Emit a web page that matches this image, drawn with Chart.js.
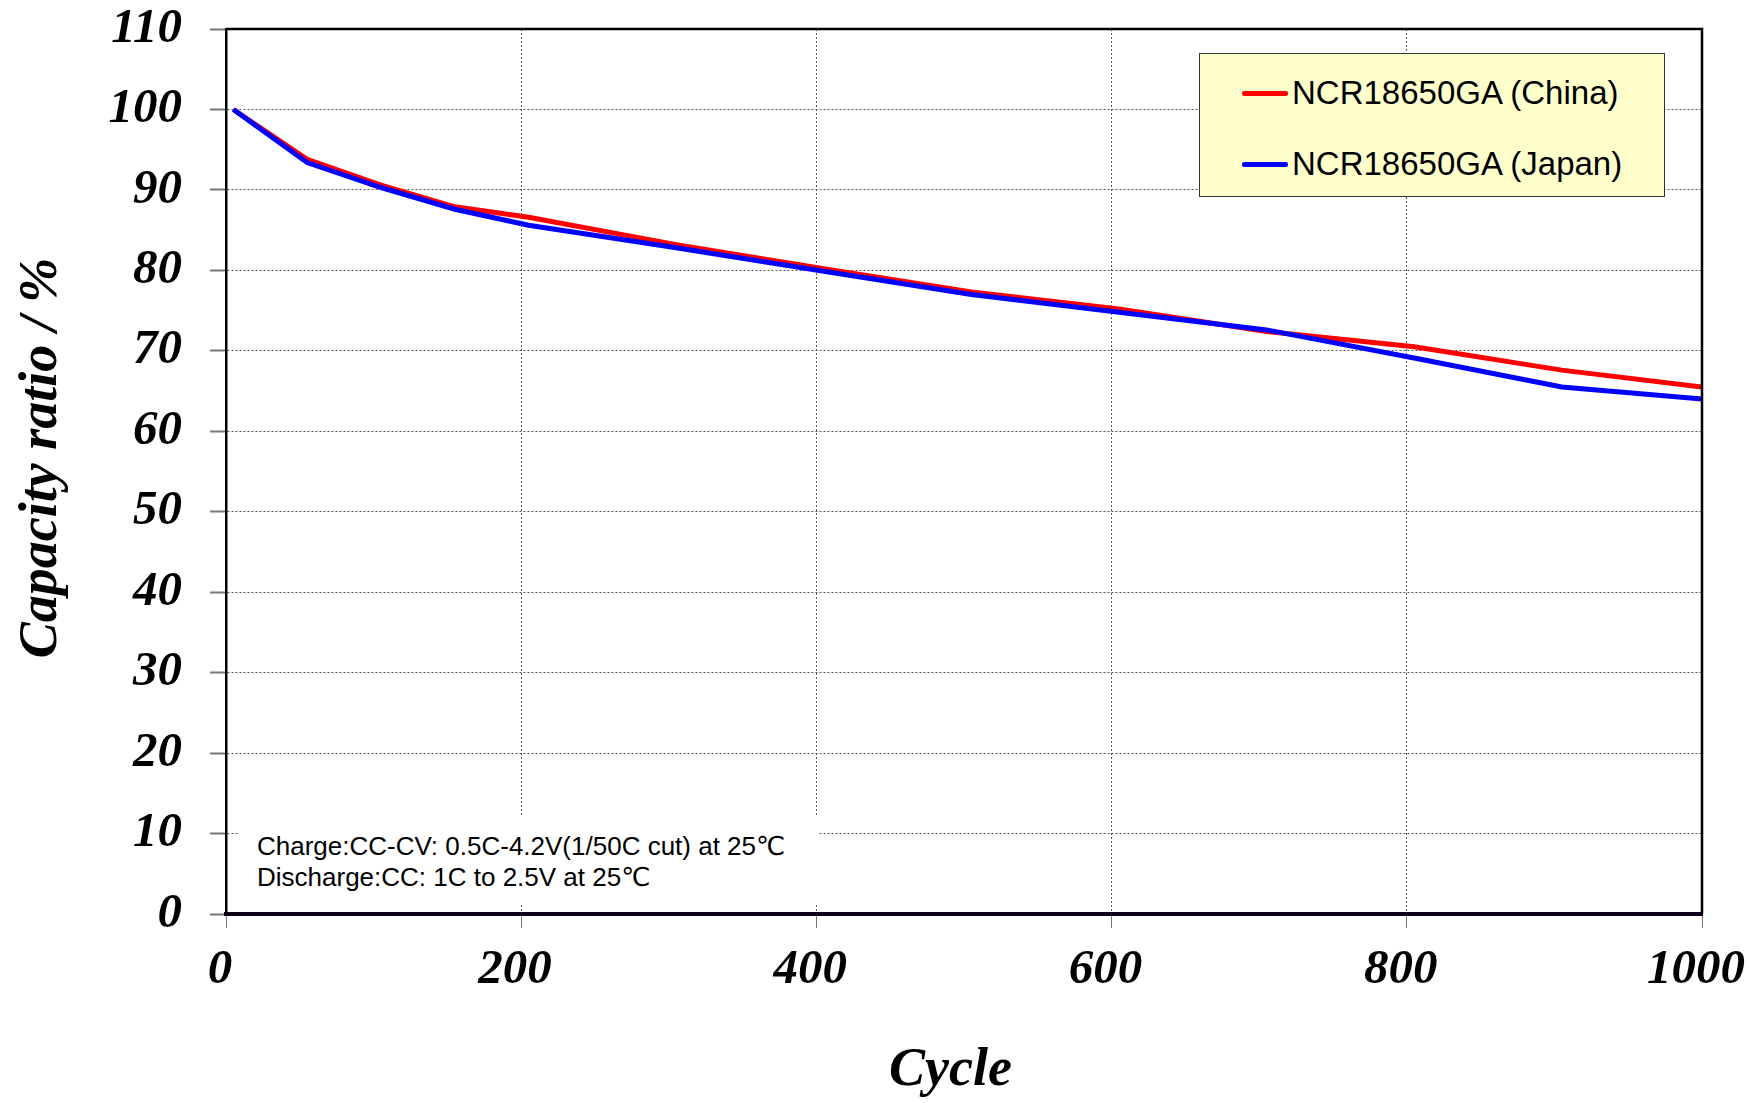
<!DOCTYPE html>
<html>
<head>
<meta charset="utf-8">
<script src="https://cdn.jsdelivr.net/npm/chart.js@4.4.1/dist/chart.umd.min.js"></script>
<style>
  body { margin: 0; background: #fff; }
  #wrap { position: relative; width: 1749px; height: 1103px; }
  #chart { position: absolute; left: 0; top: 0; }
  #legend {
    position: absolute; left: 1199px; top: 53px; width: 466px; height: 144px;
    background: #FFFFCC; border: 1.5px solid #333; box-sizing: border-box;
    font-family: "Liberation Sans", Arial, sans-serif; font-size: 33px; color: #000;
  }
  .item { position: absolute; left: 42px; height: 40px; display: flex; align-items: center; }
  .swatch { width: 46px; height: 5px; border-radius: 2px; margin-right: 4px; }
  #note {
    position: absolute; left: 238px; top: 817px; width: 580px; height: 86px;
    background: #fff; box-sizing: border-box; padding: 14px 0 0 19px;
    font-family: "Liberation Sans", Arial, "DejaVu Sans", sans-serif; font-size: 26px; line-height: 31px; color: #000;
  }
</style>
</head>
<body>
<div id="wrap">
  <canvas id="chart" width="1749" height="1103"></canvas>
  <div id="legend"></div>
  <div id="note">Charge:CC-CV: 0.5C-4.2V(1/50C cut) at 25℃<br>Discharge:CC: 1C to 2.5V at 25℃</div>
</div>
<script>
// Values
const cycles = [5, 55, 105, 155, 205, 305, 405, 505, 605, 705, 805, 905, 1000];
const chinaCapacity = [100, 93.8, 90.6, 87.9, 86.6, 83.2, 80.2, 77.3, 75.2, 72.4, 70.5, 67.6, 65.5];
const japanCapacity = [100, 93.4, 90.3, 87.6, 85.6, 82.8, 79.9, 77.0, 74.8, 72.6, 69.1, 65.5, 64.0];
const seriesNames = ['NCR18650GA (China)', 'NCR18650GA (Japan)'];
const seriesColors = ['#FF0000', '#0000FF'];
const xTickValues = [0, 200, 400, 600, 800, 1000];
const yTickValues = [0, 10, 20, 30, 40, 50, 60, 70, 80, 90, 100, 110];

const tickFont = { family: '"Liberation Serif", "Times New Roman", serif', size: 49, style: 'italic', weight: 'bold' };
const titleFont = { family: '"Liberation Serif", "Times New Roman", serif', size: 54, style: 'italic', weight: 'bold' };

function toPoints(values) {
    return cycles.map((c, i) => ({ x: c, y: values[i] }));
}

// top and right frame lines of the plot box
const frame = {
    id: 'frame',
    afterDatasetsDraw(chart) {
        const { ctx, chartArea: a } = chart;
        ctx.save();
        ctx.strokeStyle = '#000';
        ctx.lineWidth = 2.5;
        ctx.beginPath();
        ctx.moveTo(a.left, a.top);
        ctx.lineTo(a.right, a.top);
        ctx.lineTo(a.right, a.bottom);
        ctx.stroke();
        ctx.restore();
    }
};

const chart = new Chart(document.getElementById('chart'), {
    type: 'line',
    data: {
        datasets: [
            {
                label: seriesNames[0],
                data: toPoints(chinaCapacity),
                borderColor: seriesColors[0],
                backgroundColor: seriesColors[0],
                borderWidth: 5,
                pointRadius: 0,
                tension: 0,
                order: 2
            },
            {
                label: seriesNames[1],
                data: toPoints(japanCapacity),
                borderColor: seriesColors[1],
                backgroundColor: seriesColors[1],
                borderWidth: 5,
                pointRadius: 0,
                tension: 0,
                order: 1
            }
        ]
    },
    options: {
        responsive: false,
        devicePixelRatio: 1,
        animation: false,
        layout: { padding: { top: 29, right: 47, left: 0, bottom: 0 } },
        plugins: {
            legend: { display: false },
            tooltip: { enabled: false }
        },
        scales: {
            x: {
                type: 'linear',
                min: 0,
                max: 1000,
                afterBuildTicks: scale => { scale.ticks = xTickValues.map(v => ({ value: v })); },
                afterFit: scale => {
                    scale.height = 189;
                    scale.paddingLeft = 0;
                    scale.paddingRight = 0;
                },
                // trailing space nudges the italic labels a little left, as in the original
                ticks: { font: tickFont, color: '#000', padding: 13, maxRotation: 0, callback: v => v + ' ' },
                grid: { color: '#555', lineWidth: 1, tickLength: 14, tickColor: '#777', tickWidth: 1 },
                border: { display: true, color: '#12001a', width: 4, dash: [2, 2] },
                title: { display: true, text: 'Cycle\u00a0\u00a0', font: titleFont, color: '#000', padding: { top: 0, bottom: 0 } }
            },
            y: {
                type: 'linear',
                min: 0,
                max: 110,
                afterBuildTicks: scale => { scale.ticks = yTickValues.map(v => ({ value: v })); },
                afterFit: scale => {
                    scale.width = 226;
                    scale.paddingTop = 0;
                    scale.paddingBottom = 0;
                },
                ticks: { font: tickFont, color: '#000', padding: 28, callback: v => String(v) },
                grid: { color: '#555', lineWidth: 1, tickLength: 16, tickColor: '#777', tickWidth: 2 },
                border: { display: true, color: '#000', width: 2.5, dash: [2, 2] },
                title: { display: true, text: '\u00a0\u00a0Capacity ratio / %', font: titleFont, color: '#000', padding: { top: 10, bottom: 0 } }
            }
        }
    },
    plugins: [frame]
});

// HTML legend built from the datasets
const legendEl = document.getElementById('legend');
chart.data.datasets.forEach((ds, i) => {
    const row = document.createElement('div');
    row.className = 'item';
    row.style.top = (i === 0 ? 19 : 90) + 'px';
    const sw = document.createElement('span');
    sw.className = 'swatch';
    sw.style.background = ds.borderColor;
    const txt = document.createElement('span');
    txt.textContent = ds.label;
    row.appendChild(sw);
    row.appendChild(txt);
    legendEl.appendChild(row);
});
</script>
</body>
</html>
